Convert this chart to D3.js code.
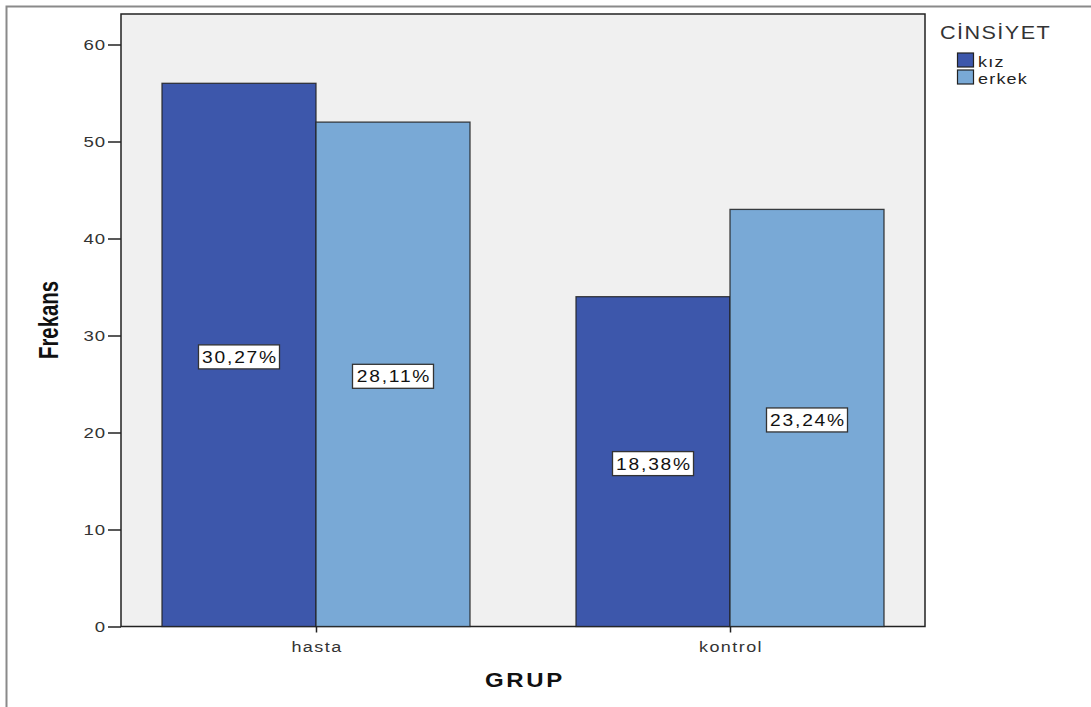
<!DOCTYPE html>
<html><head><meta charset="utf-8">
<script src="https://cdn.jsdelivr.net/npm/d3@7"></script>
<style>body{margin:0;background:#fff;}svg{display:block;font-family:"Liberation Sans",Arial,sans-serif;}</style>
</head><body>
<svg id="c" width="1091" height="707"></svg>
<script>
const groups = ["hasta", "kontrol"];
const series = ["kız", "erkek"];
const kizValues = [56, 34];
const erkekValues = [52, 43];
const percentLabels = [["30,27%", "28,11%"], ["18,38%", "23,24%"]];
const yTicks = [0, 10, 20, 30, 40, 50, 60];
const colors = ["#3d57ab", "#79a9d6"];

const svg = d3.select("#c");
const L = 121, R = 925, T = 14, B = 626.5;
const SX = 1.2; // horizontal stretch of text

function stext(parent, x, y, str, opts) {
  const o = Object.assign({size: 15, ls: 1.2, anchor: "start", weight: "normal", fill: "#333", sx: SX}, opts || {});
  return parent.append("text")
    .attr("transform", `translate(${x},${y}) scale(${o.sx},1)`)
    .attr("text-anchor", o.anchor).attr("font-size", o.size).attr("font-weight", o.weight)
    .attr("letter-spacing", o.ls).attr("fill", o.fill).text(str);
}

// outer frame
svg.append("path").attr("d", "M6.5,707 V6.5 H1091").attr("fill", "none").attr("stroke", "#8a8a8a").attr("stroke-width", 2);

const x = d3.scalePoint().domain(groups).range([L, R]).padding(0.471);
const bw = 154;
const y = d3.scaleLinear().domain([0, 60]).range([B, 44.5]);

svg.append("rect").attr("x", L).attr("y", T).attr("width", R - L).attr("height", B - T)
  .attr("fill", "#f0f0f0").attr("stroke", "#222").attr("stroke-width", 1.5);

const data = groups.map((g, i) => [kizValues[i], erkekValues[i]]);
const gSel = svg.append("g");
groups.forEach((g, gi) => {
  series.forEach((s, si) => {
    const v = data[gi][si];
    const x0 = x(g) + (si - 1) * bw;
    gSel.append("rect").attr("x", x0).attr("y", y(v)).attr("width", bw).attr("height", y(0) - y(v))
      .attr("fill", colors[si]).attr("stroke", "#222").attr("stroke-width", 1.3).attr("stroke-opacity", 0.85);
  });
});
// labels
groups.forEach((g, gi) => {
  series.forEach((s, si) => {
    const v = data[gi][si];
    const cx = x(g) + (si - 0.5) * bw;
    const cy = (y(v) + y(0)) / 2 + 2;
    svg.append("rect").attr("x", cx - 40.5).attr("y", cy - 12).attr("width", 81).attr("height", 24)
      .attr("fill", "#fff").attr("stroke", "#333").attr("stroke-width", 1.3);
    stext(svg, cx + 1, cy + 6, percentLabels[gi][si], {size: 16, ls: 1.5, anchor: "middle", fill: "#111"});
  });
});

// y axis
const yAxis = svg.append("g").attr("transform", `translate(${L},0)`)
  .call(d3.axisLeft(y).tickValues(yTicks).tickSize(13).tickFormat(""));
yAxis.select(".domain").remove();
yAxis.selectAll("line").attr("stroke", "#222").attr("stroke-width", 1.5);
yTicks.forEach(t => stext(svg, 106, y(t) + 5.5, String(t), {size: 15.5, ls: 0.8, anchor: "end"}));

// x axis
const xAxis = svg.append("g").attr("transform", `translate(0,${B})`)
  .call(d3.axisBottom(x).tickSize(6).tickFormat(""));
xAxis.select(".domain").remove();
xAxis.selectAll("line").attr("stroke", "#222").attr("stroke-width", 1.5);
groups.forEach(g => stext(svg, x(g) + 1, 651.5, g, {size: 15, ls: 1.2, anchor: "middle"}));

// axis titles
stext(svg, (L + R) / 2 + 2, 687, "GRUP", {size: 20, ls: 2.2, anchor: "middle", weight: "bold", fill: "#111"});
svg.append("text").attr("transform", "translate(58,320) rotate(-90) scale(0.74,1)").attr("text-anchor", "middle")
  .attr("font-size", 27.5).attr("font-weight", "bold").attr("fill", "#111").text("Frekans");

// legend
stext(svg, 940, 38.5, "CİNSİYET", {size: 18, ls: 1.2});
series.forEach((s, i) => {
  const yy = 53 + i * 17;
  svg.append("rect").attr("x", 957.5).attr("y", yy).attr("width", 16).attr("height", 14)
    .attr("fill", colors[i]).attr("stroke", "#222").attr("stroke-width", 1.2);
  stext(svg, 978, yy + 14, s, {size: 15, ls: 1, fill: "#222"});
});
</script>
</body></html>
